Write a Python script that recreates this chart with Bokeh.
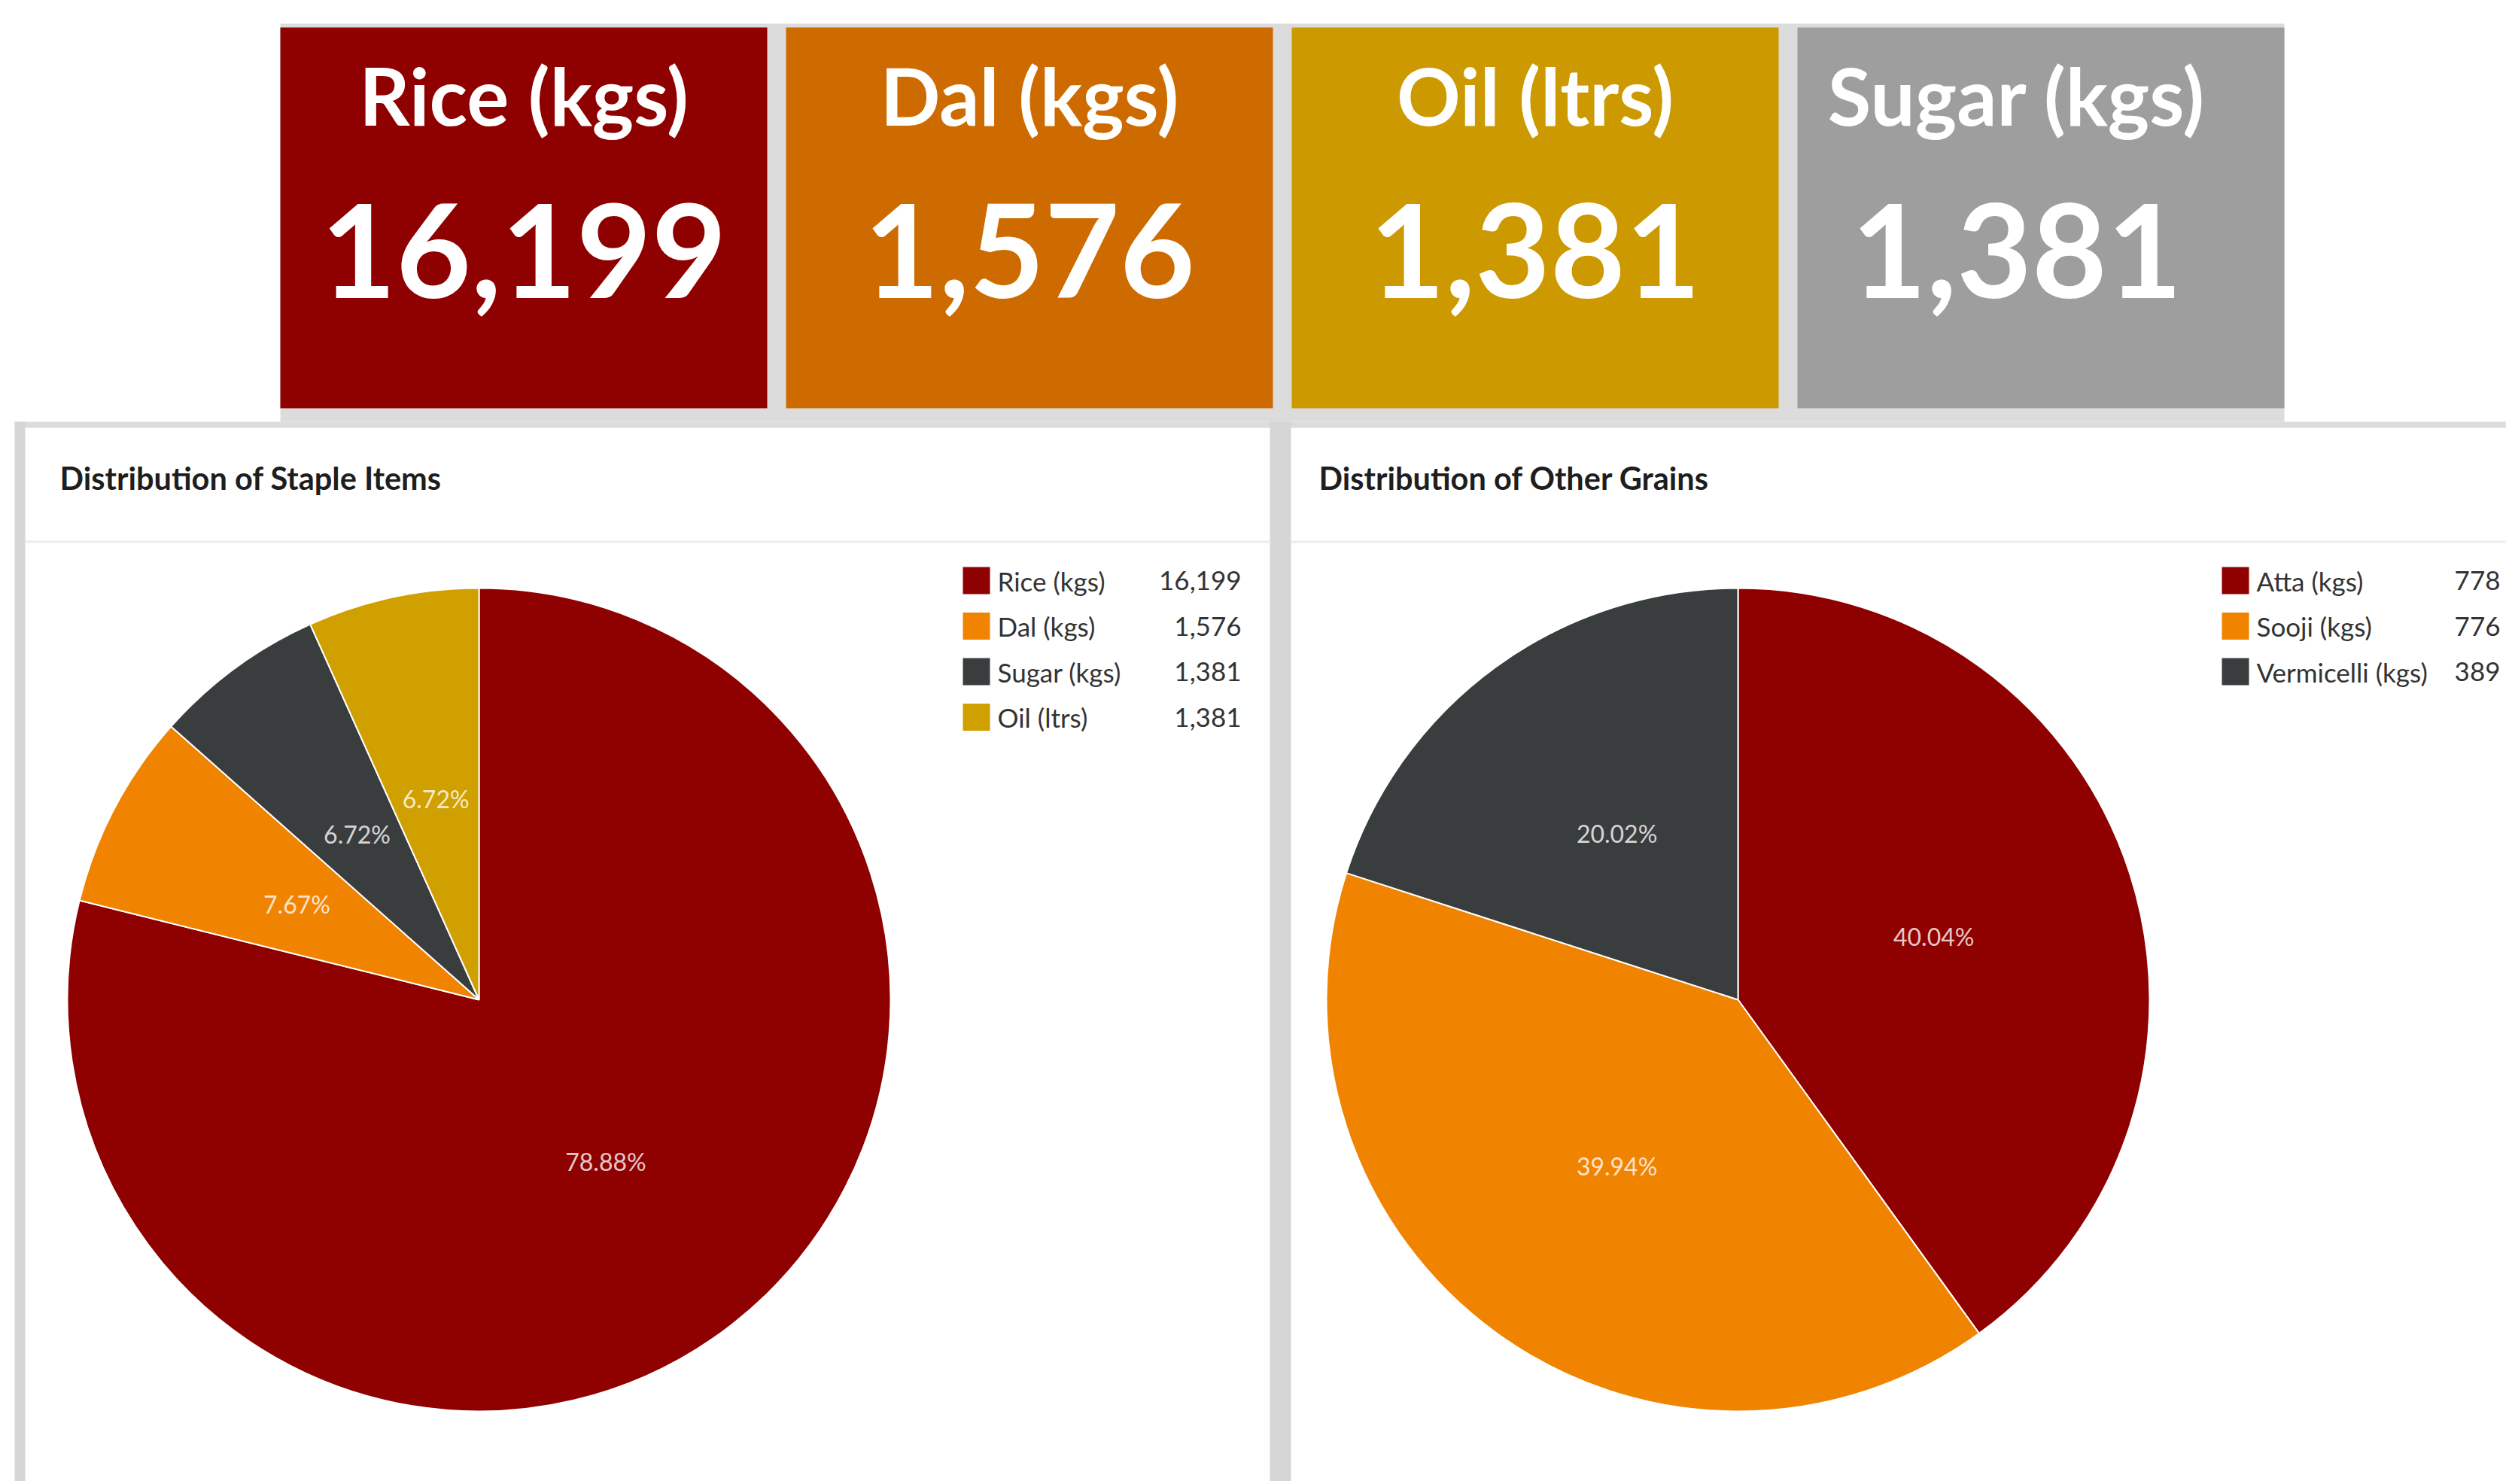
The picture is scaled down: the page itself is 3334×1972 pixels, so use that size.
import numpy as np
from bokeh.plotting import figure
from bokeh.models import Range1d, ColumnDataSource
from bokeh.core.properties import value
from bokeh.embed import file_html
from bokeh.resources import INLINE

# ---------------- data ----------------
kpi_labels = ["Rice (kgs)", "Dal (kgs)", "Oil (ltrs)", "Sugar (kgs)"]
kpi_values = [16199, 1576, 1381, 1381]
kpi_colors = ["#8f0000", "#cd6b00", "#cc9a00", "#9e9e9e"]

staple_title = "Distribution of Staple Items"
staple_items = ["Rice (kgs)", "Dal (kgs)", "Sugar (kgs)", "Oil (ltrs)"]
staple_values = [16199, 1576, 1381, 1381]
staple_colors = ["#8f0000", "#f08300", "#3a3d3e", "#d09f00"]

grain_title = "Distribution of Other Grains"
grain_items = ["Atta (kgs)", "Sooji (kgs)", "Vermicelli (kgs)"]
grain_values = [778, 776, 389]
grain_colors = ["#8f0000", "#f08300", "#3a3d3e"]

# ---------------- canvas (1 data unit = 1 px of the page) ----------------
REF_H = 1972
W, H = 3330, 1968
FONT = value("Lato")


def Y(y):
    return REF_H - y


p = figure(width=W, height=H, x_range=Range1d(0, W), y_range=Range1d(REF_H - H, REF_H),
           x_axis_type=None, y_axis_type=None, output_backend="svg", toolbar_location=None,
           min_border=0, outline_line_color=None, background_fill_color="white",
           border_fill_color="white")

# background greys
GREY = "#dcdcdc"
p.quad(left=[372], right=[3035], top=[Y(31)], bottom=[Y(560)], fill_color=GREY, line_color=None)
p.quad(left=[19], right=[3340], top=[Y(560)], bottom=[Y(568)], fill_color=GREY, line_color=None)
p.quad(left=[19, 1687], right=[33, 1715], top=[Y(560), Y(560)], bottom=[Y(1980), Y(1980)],
       fill_color="#d6d6d6", line_color=None)
p.quad(left=[33, 1715], right=[1687, 3340], top=[Y(718), Y(718)], bottom=[Y(721), Y(721)],
       fill_color="#ececec", line_color=None)

# ---------------- KPI tiles ----------------
TILE_X0, TILE_STEP, TILE_W = 372, 672, 647
TEXT_DX = [0, 0, 0, -32]  # layout nudge of the texts inside each tile
tile_left = [TILE_X0 + i * TILE_STEP for i in range(len(kpi_labels))]
tiles = ColumnDataSource(dict(
    left=tile_left,
    right=[l + TILE_W for l in tile_left],
    cx=[l + TILE_W / 2 + d for l, d in zip(tile_left, TEXT_DX)],
    color=kpi_colors,
    label=kpi_labels,
    val=["{:,}".format(v) for v in kpi_values],
))
p.quad(left="left", right="right", top=Y(36), bottom=Y(542), fill_color="color", line_color=None, source=tiles)
p.text(x="cx", y=Y(125), text="label", source=tiles, text_color="white", text_font=FONT,
       text_font_style="bold", text_font_size="105px", text_align="center", text_baseline="middle")
p.text(x="cx", y=Y(333), text="val", source=tiles, text_color="white", text_font=FONT,
       text_font_style="bold", text_font_size="172px", text_align="center", text_baseline="middle")


# ---------------- pie panels ----------------
def pie_panel(items, values, colors, title, dx):
    cx, cy, r = 636 + dx, Y(1328), 547
    vals = np.array(values, dtype=float)
    frac = vals / vals.sum()
    cum = np.concatenate([[0.0], np.cumsum(frac)])
    start = np.pi / 2 - 2 * np.pi * cum[1:]
    end = np.pi / 2 - 2 * np.pi * cum[:-1]
    mid = (start + end) / 2
    src = ColumnDataSource(dict(
        start=start, end=end, color=colors, item=items,
        lx=cx + 0.5 * r * np.cos(mid), ly=cy + 0.5 * r * np.sin(mid),
        pct=["{:.2f}%".format(f * 100) for f in frac],
        ky=[Y(771 + 60.5 * i) for i in range(len(items))],
        vtxt=["{:,}".format(v) for v in values],
    ))
    p.wedge(x=cx, y=cy, radius=r, start_angle="start", end_angle="end", fill_color="color",
            line_color="white", line_width=2, source=src)
    p.text(x="lx", y="ly", text="pct", source=src, text_color="white", text_alpha=0.8,
           text_font=FONT, text_font_size="32px", text_align="center", text_baseline="middle")
    # title
    p.text(x=[79 + dx], y=[Y(634)], text=[title], text_color="#1e1e1e", text_font=FONT,
           text_font_style="bold", text_font_size="41.5px", text_align="left", text_baseline="middle")
    # legend
    p.rect(x=1297 + dx, y="ky", width=36, height=36, fill_color="color", line_color=None, source=src)
    p.text(x=1325 + dx, y="ky", text="item", source=src, text_color="#333333", text_font=FONT,
           text_font_size="35px", text_align="left", text_baseline="middle")
    p.text(x=1649 + dx, y="ky", text="vtxt", source=src, text_color="#333333", text_font=FONT,
           text_font_size="35px", text_align="right", text_baseline="middle")


pie_panel(staple_items, staple_values, staple_colors, staple_title, 0)
pie_panel(grain_items, grain_values, grain_colors, grain_title, 1673)

open("out.html", "w").write(file_html(p, INLINE))
